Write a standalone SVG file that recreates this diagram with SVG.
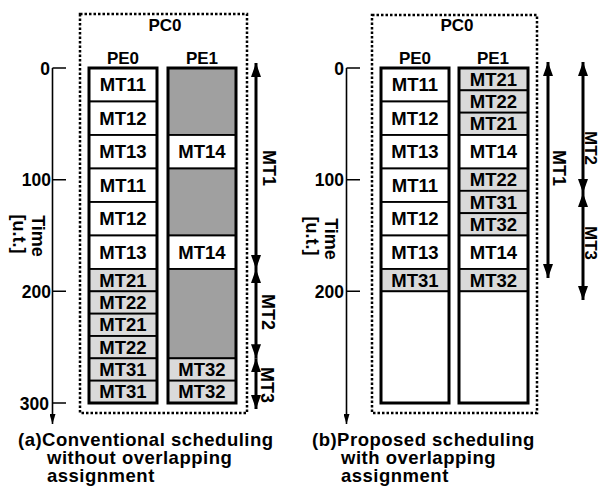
<svg xmlns="http://www.w3.org/2000/svg" width="600" height="486" viewBox="0 0 600 486">
<style>
text{font-family:"Liberation Sans",Arial,sans-serif;font-weight:bold;fill:#000}
.cl{font-size:18.5px;text-anchor:middle}
.hd{font-size:17px;text-anchor:middle}
.num{font-size:17.5px;text-anchor:end}
.ax{font-size:18px;text-anchor:middle}
.mt{font-size:18px;text-anchor:middle}
.mts{font-size:17px;text-anchor:middle}
.cap{font-size:18.5px;letter-spacing:0.5px}
.w{fill:#fff;stroke:#000;stroke-width:1.8}
.d{fill:#a0a0a0;stroke:#000;stroke-width:1.8}
.l{fill:#dadada;stroke:#000;stroke-width:1.8}
.col{fill:none;stroke:#000;stroke-width:3}
.pc{fill:none;stroke:#000;stroke-width:2.5;stroke-dasharray:2.5 2}
.axis{fill:none;stroke:#000;stroke-width:1.6}
.big{fill:none;stroke:#000;stroke-width:3}
</style>
<defs>
<marker id="ah" viewBox="0 0 14 10" refX="14" refY="5" markerWidth="14" markerHeight="10" markerUnits="userSpaceOnUse" orient="auto-start-reverse"><path d="M0,0 L14,5 L0,10 z" fill="#000"/></marker>
<marker id="sa" viewBox="0 0 10 6" refX="10" refY="3" markerWidth="10" markerHeight="6" markerUnits="userSpaceOnUse" orient="auto"><path d="M0,0 L10,3 L0,6 z" fill="#000"/></marker>
</defs>

<!-- Panel (a) -->
<g id="pc0-a">
<rect class="pc" x="80" y="14" width="167" height="399"/>
<text class="hd" x="165" y="31">PC0</text>
</g>
<text class="hd" x="123" y="64">PE0</text>
<text class="hd" x="202" y="64">PE1</text>

<g id="a-pe0">
<g id="a0-1"><rect class="w" x="89" y="68" width="68" height="33.5"/><text class="cl" x="123" y="91.3">MT11</text></g>
<g id="a0-2"><rect class="w" x="89" y="101.5" width="68" height="33.5"/><text class="cl" x="123" y="124.8">MT12</text></g>
<g id="a0-3"><rect class="w" x="89" y="135" width="68" height="33.5"/><text class="cl" x="123" y="158.3">MT13</text></g>
<g id="a0-4"><rect class="w" x="89" y="168.5" width="68" height="33.5"/><text class="cl" x="123" y="191.8">MT11</text></g>
<g id="a0-5"><rect class="w" x="89" y="202" width="68" height="33.5"/><text class="cl" x="123" y="225.3">MT12</text></g>
<g id="a0-6"><rect class="w" x="89" y="235.5" width="68" height="33.5"/><text class="cl" x="123" y="258.8">MT13</text></g>
<g id="a0-7"><rect class="l" x="89" y="269" width="68" height="22.33"/><text class="cl" x="123" y="286.7">MT21</text></g>
<g id="a0-8"><rect class="l" x="89" y="291.33" width="68" height="22.33"/><text class="cl" x="123" y="309">MT22</text></g>
<g id="a0-9"><rect class="l" x="89" y="313.67" width="68" height="22.33"/><text class="cl" x="123" y="331.3">MT21</text></g>
<g id="a0-10"><rect class="l" x="89" y="336" width="68" height="22.33"/><text class="cl" x="123" y="353.7">MT22</text></g>
<g id="a0-11"><rect class="l" x="89" y="358.33" width="68" height="22.33"/><text class="cl" x="123" y="376">MT31</text></g>
<g id="a0-12"><rect class="l" x="89" y="380.67" width="68" height="22.33"/><text class="cl" x="123" y="398.3">MT31</text></g>
<rect class="col" x="89" y="68" width="68" height="335"/>
</g>

<g id="a-pe1">
<g id="a1-1"><rect class="d" x="168" y="68" width="68" height="67"/></g>
<g id="a1-2"><rect class="w" x="168" y="135" width="68" height="33.5"/><text class="cl" x="202" y="158.3">MT14</text></g>
<g id="a1-3"><rect class="d" x="168" y="168.5" width="68" height="67"/></g>
<g id="a1-4"><rect class="w" x="168" y="235.5" width="68" height="33.5"/><text class="cl" x="202" y="258.8">MT14</text></g>
<g id="a1-5"><rect class="d" x="168" y="269" width="68" height="89.33"/></g>
<g id="a1-6"><rect class="l" x="168" y="358.33" width="68" height="22.33"/><text class="cl" x="202" y="376">MT32</text></g>
<g id="a1-7"><rect class="l" x="168" y="380.67" width="68" height="22.33"/><text class="cl" x="202" y="398.3">MT32</text></g>
<rect class="col" x="168" y="68" width="68" height="335"/>
</g>

<g id="a-axis">
<path class="axis" d="M52.5,68 V424" marker-end="url(#sa)"/>
<path class="axis" d="M52.5,68 H66 M52.5,179.7 H66 M52.5,291.3 H66 M52.5,403 H66"/>
<text class="num" x="50" y="74.5">0</text>
<text class="num" x="51" y="186.2">100</text>
<text class="num" x="51" y="297.8">200</text>
<text class="num" x="49" y="409.5">300</text>
<text class="ax" transform="translate(32,236) rotate(90)">Time</text>
<text class="ax" transform="translate(13,234) rotate(90)">[u.t.]</text>
</g>

<!-- Panel (b) -->
<g id="pc0-b">
<rect class="pc" x="372" y="15" width="165" height="398"/>
<text class="hd" x="457" y="31">PC0</text>
</g>
<text class="hd" x="415" y="64">PE0</text>
<text class="hd" x="493" y="64">PE1</text>

<g id="b-pe0">
<g id="b0-1"><rect class="w" x="381" y="68" width="68" height="33.5"/><text class="cl" x="415" y="91.3">MT11</text></g>
<g id="b0-2"><rect class="w" x="381" y="101.5" width="68" height="33.5"/><text class="cl" x="415" y="124.8">MT12</text></g>
<g id="b0-3"><rect class="w" x="381" y="135" width="68" height="33.5"/><text class="cl" x="415" y="158.3">MT13</text></g>
<g id="b0-4"><rect class="w" x="381" y="168.5" width="68" height="33.5"/><text class="cl" x="415" y="191.8">MT11</text></g>
<g id="b0-5"><rect class="w" x="381" y="202" width="68" height="33.5"/><text class="cl" x="415" y="225.3">MT12</text></g>
<g id="b0-6"><rect class="w" x="381" y="235.5" width="68" height="33.5"/><text class="cl" x="415" y="258.8">MT13</text></g>
<g id="b0-7"><rect class="l" x="381" y="269" width="68" height="22.33"/><text class="cl" x="415" y="286.7">MT31</text></g>
<rect class="w" x="381" y="291.33" width="68" height="111.67"/>
<rect class="col" x="381" y="68" width="68" height="335"/>
</g>

<g id="b-pe1">
<g id="b1-1"><rect class="l" x="459" y="68" width="69" height="22.33"/><text class="cl" x="493.5" y="85.7">MT21</text></g>
<g id="b1-2"><rect class="l" x="459" y="90.33" width="69" height="22.33"/><text class="cl" x="493.5" y="108">MT22</text></g>
<g id="b1-3"><rect class="l" x="459" y="112.67" width="69" height="22.33"/><text class="cl" x="493.5" y="130.3">MT21</text></g>
<g id="b1-4"><rect class="w" x="459" y="135" width="69" height="33.5"/><text class="cl" x="493.5" y="158.3">MT14</text></g>
<g id="b1-5"><rect class="l" x="459" y="168.5" width="69" height="22.33"/><text class="cl" x="493.5" y="186.2">MT22</text></g>
<g id="b1-6"><rect class="l" x="459" y="190.83" width="69" height="22.33"/><text class="cl" x="493.5" y="208.5">MT31</text></g>
<g id="b1-7"><rect class="l" x="459" y="213.17" width="69" height="22.33"/><text class="cl" x="493.5" y="230.8">MT32</text></g>
<g id="b1-8"><rect class="w" x="459" y="235.5" width="69" height="33.5"/><text class="cl" x="493.5" y="258.8">MT14</text></g>
<g id="b1-9"><rect class="l" x="459" y="269" width="69" height="22.33"/><text class="cl" x="493.5" y="286.7">MT32</text></g>
<rect class="w" x="459" y="291.33" width="69" height="111.67"/>
<rect class="col" x="459" y="68" width="69" height="335"/>
</g>

<g id="b-axis">
<path class="axis" d="M346.5,68 V424" marker-end="url(#sa)"/>
<path class="axis" d="M346.5,68 H360 M346.5,179.7 H360 M346.5,291.3 H360"/>
<text class="num" x="344" y="74.5">0</text>
<text class="num" x="344" y="186.2">100</text>
<text class="num" x="344" y="297.8">200</text>
<text class="ax" transform="translate(325,239) rotate(90)">Time</text>
<text class="ax" transform="translate(306,236) rotate(90)">[u.t.]</text>
</g>

<!-- Connectors: macro-task span arrows -->
<g id="connectors">
<path class="big" d="M256,63 V269" marker-start="url(#ah)" marker-end="url(#ah)"/>
<path class="big" d="M256,269 V358.3" marker-start="url(#ah)" marker-end="url(#ah)"/>
<path class="big" d="M256,358.3 V409" marker-start="url(#ah)" marker-end="url(#ah)"/>
<path class="big" d="M548,62 V278" marker-start="url(#ah)" marker-end="url(#ah)"/>
<path class="big" d="M583,62 V193" marker-start="url(#ah)" marker-end="url(#ah)"/>
<path class="big" d="M583,193 V300" marker-start="url(#ah)" marker-end="url(#ah)"/>
</g>
<g id="span-labels">
<text class="mt" transform="translate(263,168) rotate(90)">MT1</text>
<text class="mt" transform="translate(262,312) rotate(90)">MT2</text>
<text class="mt" transform="translate(261,385) rotate(90)">MT3</text>
<text class="mt" transform="translate(553,168) rotate(90)">MT1</text>
<text class="mts" transform="translate(585,148) rotate(90)">MT2</text>
<text class="mts" transform="translate(585,243) rotate(90)">MT3</text>
</g>

<!-- Captions -->
<g id="captions">
<text class="cap" x="18" y="446">(a)Conventional scheduling</text>
<text class="cap" x="47" y="464">without overlapping</text>
<text class="cap" x="47" y="482">assignment</text>
<text class="cap" x="312" y="446">(b)Proposed scheduling</text>
<text class="cap" x="341" y="464">with overlapping</text>
<text class="cap" x="341" y="482">assignment</text>
</g>
</svg>
